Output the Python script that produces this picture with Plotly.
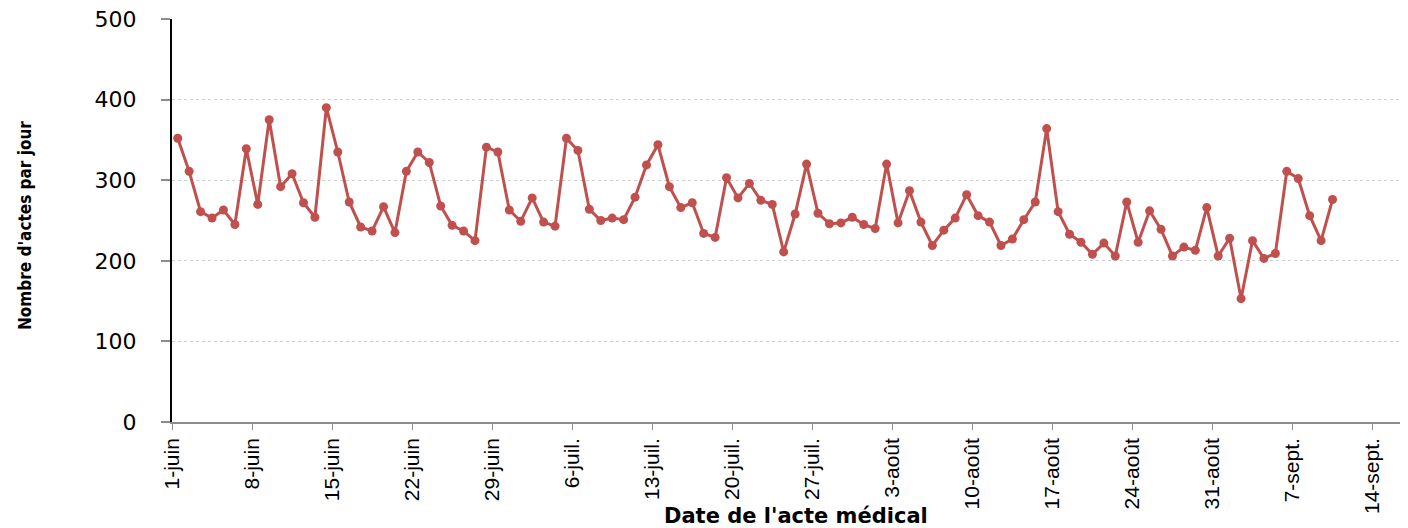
import pandas as pd
import plotly.graph_objects as go

start_date = "2020-06-01"
values = [
    352, 311, 261, 253, 263, 245, 339, 270, 375, 292,
    308, 272, 254, 390, 335, 273, 242, 237, 267, 235,
    311, 335, 322, 268, 244, 237, 225, 341, 335, 263,
    249, 278, 248, 243, 352, 337, 264, 250, 253, 251,
    279, 319, 344, 292, 266, 272, 234, 229, 303, 278,
    296, 275, 270, 211, 258, 320, 259, 246, 247, 254,
    245, 240, 320, 247, 287, 248, 219, 238, 253, 282,
    256, 248, 219, 227, 251, 273, 364, 261, 233, 223,
    208, 222, 206, 273, 223, 262, 239, 206, 217, 213,
    266, 206, 228, 153, 225, 203, 209, 311, 302, 256,
    225, 276,
]
tick_labels = ["1-juin", "8-juin", "15-juin", "22-juin", "29-juin", "6-juil.",
               "13-juil.", "20-juil.", "27-juil.", "3-août", "10-août", "17-août",
               "24-août", "31-août", "7-sept.", "14-sept."]
y_ticks = [0, 100, 200, 300, 400, 500]
x_title = "Date de l'acte médical"
y_title = "Nombre d'actes par jour"

dates = pd.date_range(start_date, periods=len(values), freq="D")
tick_dates = pd.date_range(start_date, periods=len(tick_labels), freq="7D")
x_end = pd.Timestamp(start_date) + pd.Timedelta(days=108.1)

RED = "#C0504D"

# The page adds an 8px body margin, so the figure is sized to fit the window.
W, H = 1400, 520
L, T, B, R = 164, 11, 106, 0
plot_w = W - L - R
plot_h = H - T - B

fig = go.Figure()
fig.add_trace(go.Scatter(
    x=dates, y=values, mode="lines+markers",
    xperiod=86400000, xperiodalignment="middle",
    line=dict(color=RED, width=3),
    marker=dict(color=RED, size=9),
    showlegend=False,
))

fig.update_layout(
    width=W, height=H,
    margin=dict(l=L, r=R, t=T, b=B, autoexpand=False),
    paper_bgcolor="white", plot_bgcolor="white",
    font=dict(family="Liberation Sans", color="black"),
)
fig.update_xaxes(
    type="date", automargin=False,
    range=[pd.Timestamp(start_date), x_end],
    tickmode="array", tickvals=tick_dates, ticktext=tick_labels,
    tickangle=-90, tickfont=dict(family="Liberation Sans", size=21, color="black"),
    ticks="outside", ticklen=6, tickcolor="#8c8c8c", tickwidth=1,
    ticklabeloverflow="allow",
    showline=True, linecolor="#8c8c8c", linewidth=1.5,
    showgrid=False, zeroline=False,
)
fig.update_yaxes(
    automargin=False,
    range=[0, 500], tickmode="array", tickvals=y_ticks,
    tickfont=dict(family="DejaVu Sans", size=22, color="black"),
    ticks="outside", ticklen=9, tickcolor="#8c8c8c", tickwidth=1.5,
    ticklabelstandoff=20, ticklabeloverflow="allow",
    showline=True, linecolor="black", linewidth=2,
    showgrid=True, gridcolor="#d0d0d0", griddash="dot", gridwidth=1,
    zeroline=False,
)
fig.add_annotation(
    text=x_title, xref="paper", yref="paper",
    x=(788 - L) / plot_w, y=-(508 - (H - B)) / plot_h,
    xanchor="center", yanchor="middle", showarrow=False,
    font=dict(family="DejaVu Sans", size=21, color="black", weight="bold"),
)
fig.add_annotation(
    text=y_title, xref="paper", yref="paper", textangle=-90,
    x=(17 - L) / plot_w, y=((H - B) - 218) / plot_h,
    xanchor="center", yanchor="middle", showarrow=False,
    font=dict(family="DejaVu Sans Condensed", size=17, color="black", weight="bold"),
)

fig.write_html("out.html")
